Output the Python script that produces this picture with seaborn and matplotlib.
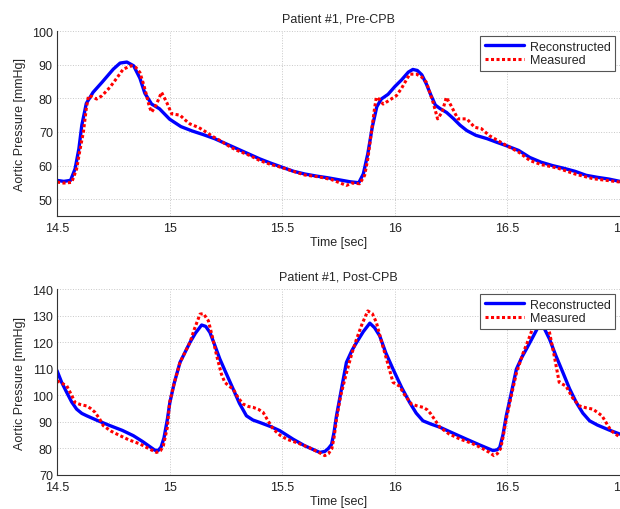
import matplotlib
matplotlib.use("Agg")
import matplotlib.pyplot as plt
import seaborn as sns
import numpy as np

# --- Pre-CPB: reconstructed (blue) ---
t_pre_rec = [14.50, 14.53, 14.56, 14.58, 14.597, 14.61, 14.63, 14.66, 14.70, 14.75, 14.78, 14.81,
             14.84, 14.868, 14.89, 14.92, 14.955, 15.00, 15.05, 15.10, 15.15, 15.20, 15.25, 15.30,
             15.35, 15.40, 15.45, 15.50, 15.55, 15.60, 15.65, 15.70, 15.75, 15.80, 15.84, 15.86,
             15.88, 15.90, 15.92, 15.94, 15.97, 16.00, 16.03, 16.06, 16.08, 16.10, 16.12, 16.14,
             16.16, 16.18, 16.20, 16.23, 16.26, 16.29, 16.32, 16.36, 16.41, 16.45, 16.50, 16.55,
             16.60, 16.65, 16.70, 16.75, 16.80, 16.85, 16.90, 16.95, 17.00]
p_pre_rec = [55.6, 55.3, 55.6, 59.0, 65.0, 72.0, 78.5, 81.8, 84.8, 88.7, 90.5, 90.8,
             89.7, 86.0, 81.5, 78.3, 76.9, 73.8, 71.6, 70.3, 69.2, 68.0, 66.5, 65.0,
             63.5, 62.0, 60.7, 59.5, 58.3, 57.5, 56.9, 56.4, 55.8, 55.2, 54.9, 57.5,
             63.5, 71.5, 77.5, 79.8, 81.2, 83.5, 85.5, 87.8, 88.6, 88.3, 87.0, 84.3,
             81.0, 78.0, 77.0, 75.8, 74.0, 72.0, 70.4, 69.0, 68.0, 67.0, 65.8, 64.5,
             62.4, 61.0, 60.0, 59.2, 58.3, 57.1, 56.5, 56.0, 55.3]

# --- Pre-CPB: measured (red) ---
t_pre_meas = [14.50, 14.53, 14.565, 14.587, 14.60, 14.617, 14.63, 14.64, 14.655, 14.676, 14.70,
              14.735, 14.765, 14.794, 14.83, 14.85, 14.868, 14.885, 14.898, 14.91, 14.92, 14.94,
              14.964, 14.987, 15.009, 15.046, 15.07, 15.09, 15.13, 15.164, 15.19, 15.223, 15.27,
              15.30, 15.356, 15.40, 15.45, 15.489, 15.55, 15.60, 15.667, 15.72, 15.785, 15.81,
              15.844, 15.866, 15.88, 15.896, 15.91, 15.918, 15.93, 15.948, 15.97, 16.007, 16.03,
              16.066, 16.096, 16.12, 16.14, 16.17, 16.19, 16.21, 16.229, 16.25, 16.28, 16.32,
              16.354, 16.384, 16.42, 16.495, 16.55, 16.60, 16.65, 16.70, 16.73, 16.80, 16.88,
              16.94, 17.00]
p_pre_meas = [55.1, 54.8, 55.0, 59.0, 64.0, 70.0, 77.0, 80.8, 80.5, 79.8, 80.8,
              83.3, 86.0, 88.7, 89.7, 89.2, 87.7, 84.0, 80.8, 77.5, 75.9, 78.0,
              81.8, 78.8, 75.4, 75.0, 73.5, 72.4, 71.3, 69.9, 68.7, 67.5, 65.5,
              64.5, 63.0, 61.5, 60.3, 59.6, 58.3, 57.2, 56.6, 55.8, 54.1, 54.8,
              54.6, 57.1, 62.0, 69.9, 77.0, 80.3, 79.8, 78.3, 79.2, 80.8, 83.0,
              87.2, 87.2, 86.3, 84.8, 78.8, 73.9, 75.9, 80.3, 77.8, 73.9, 73.9,
              71.4, 71.0, 68.9, 66.0, 64.0, 61.5, 60.3, 59.6, 59.1, 57.5, 56.1,
              55.6, 55.1]

# --- Post-CPB: reconstructed (blue) ---
t_post_rec = [14.50, 14.52, 14.543, 14.565, 14.587, 14.61, 14.632, 14.68, 14.735, 14.79, 14.839,
              14.88, 14.91, 14.935, 14.95, 14.962, 14.975, 14.99, 15.001, 15.02, 15.046, 15.07,
              15.09, 15.115, 15.142, 15.16, 15.179, 15.20, 15.223, 15.25, 15.282, 15.31, 15.341,
              15.37, 15.40, 15.45, 15.489, 15.548, 15.60, 15.667, 15.69, 15.705, 15.719, 15.73,
              15.741, 15.76, 15.785, 15.81, 15.83, 15.86, 15.889, 15.91, 15.933, 15.96, 15.992,
              16.03, 16.066, 16.095, 16.125, 16.16, 16.20, 16.26, 16.318, 16.38, 16.436, 16.455,
              16.466, 16.48, 16.495, 16.515, 16.54, 16.565, 16.584, 16.61, 16.643, 16.665, 16.687,
              16.715, 16.746, 16.776, 16.806, 16.835, 16.865, 16.90, 16.95, 17.00]
p_post_rec = [109.3, 105.0, 101.1, 97.5, 94.8, 93.2, 92.3, 90.5, 88.6, 86.8, 84.8,
              82.6, 80.8, 79.3, 79.3, 80.5, 84.0, 91.0, 97.3, 104.5, 112.4, 116.5,
              119.9, 123.5, 126.5, 126.0, 123.7, 119.0, 113.7, 108.5, 102.4, 97.0, 92.3,
              90.7, 89.8, 88.2, 86.7, 83.5, 81.0, 78.5, 78.9, 80.0, 81.5, 86.0,
              92.3, 101.0, 112.4, 117.0, 119.9, 124.0, 127.2, 125.5, 122.4, 116.0, 109.9,
              103.0, 97.3, 93.3, 90.4, 89.2, 88.0, 85.7, 83.5, 81.2, 79.2, 79.5,
              80.4, 85.0, 92.3, 100.0, 109.9, 114.5, 117.4, 121.5, 126.8, 125.0, 121.2,
              115.0, 108.7, 102.5, 97.3, 93.3, 90.4, 88.8, 87.0, 85.4]

# --- Post-CPB: measured (red) ---
t_post_meas = [14.50, 14.543, 14.565, 14.58, 14.605, 14.632, 14.65, 14.669, 14.69, 14.705, 14.74,
               14.78, 14.82, 14.868, 14.91, 14.942, 14.96, 14.972, 14.99, 15.00, 15.02, 15.046,
               15.07, 15.09, 15.11, 15.135, 15.15, 15.172, 15.19, 15.209, 15.23, 15.245, 15.265,
               15.282, 15.305, 15.327, 15.35, 15.37, 15.395, 15.415, 15.44, 15.46, 15.49, 15.52,
               15.57, 15.62, 15.667, 15.689, 15.705, 15.72, 15.73, 15.741, 15.76, 15.785, 15.81,
               15.83, 15.855, 15.88, 15.90, 15.918, 15.94, 15.963, 15.992, 16.02, 16.045, 16.074,
               16.10, 16.125, 16.145, 16.16, 16.18, 16.20, 16.24, 16.29, 16.34, 16.38, 16.42,
               16.44, 16.455, 16.47, 16.48, 16.495, 16.515, 16.54, 16.57, 16.60, 16.625, 16.645,
               16.665, 16.687, 16.71, 16.73, 16.76, 16.79, 16.82, 16.85, 16.88, 16.92, 16.94,
               16.96, 17.00]
p_post_meas = [105.5, 103.6, 100.0, 97.3, 96.5, 96.0, 95.0, 93.6, 91.0, 88.6, 86.5,
               84.8, 83.2, 81.7, 79.8, 78.5, 79.2, 81.0, 88.0, 97.3, 104.5, 112.4,
               116.5, 119.9, 125.0, 130.6, 130.8, 128.1, 122.0, 114.9, 108.0, 104.9, 103.4,
               102.4, 99.0, 96.7, 95.8, 95.5, 94.7, 93.6, 90.0, 87.3, 85.0, 83.5,
               82.0, 80.3, 78.3, 77.3, 78.0, 79.9, 84.0, 91.0, 100.0, 108.4, 116.0,
               121.2, 127.0, 131.8, 130.8, 127.5, 120.5, 113.7, 104.9, 103.5, 100.0, 96.7,
               96.0, 95.5, 94.5, 93.0, 90.5, 88.0, 85.5, 83.5, 82.0, 80.4, 78.5,
               77.3, 78.0, 80.0, 84.0, 91.0, 99.0, 108.4, 116.0, 122.4, 128.5, 131.0,
               129.0, 123.7, 114.0, 104.9, 103.5, 99.0, 96.0, 95.3, 94.8, 92.3, 89.5,
               86.7, 84.2]

titles = ["Patient #1, Pre-CPB", "Patient #1, Post-CPB"]
ylims = [(45, 100), (70, 140)]
yticks = [np.arange(50, 101, 10), np.arange(70, 141, 10)]
xticks = [14.5, 15, 15.5, 16, 16.5, 17]
xtick_labels = ["14.5", "15", "15.5", "16", "16.5", "17"]

sns.set_style("white")
plt.rcParams['font.family'] = ['Liberation Sans', 'DejaVu Sans']

fig = plt.figure(figsize=(6.2, 5.1), dpi=100)
ax1 = fig.add_axes([0.092, 0.5745, 0.908, 0.3625])
ax2 = fig.add_axes([0.092, 0.0667, 0.908, 0.3643])

panels = [(ax1, t_pre_rec, p_pre_rec, t_pre_meas, p_pre_meas),
          (ax2, t_post_rec, p_post_rec, t_post_meas, p_post_meas)]

fs = 9
for i, (ax, tr, pr, tm, pm) in enumerate(panels):
    sns.lineplot(x=tr, y=pr, ax=ax, color='#0000ff', lw=2.4, sort=False,
                 estimator=None, label='Reconstructed')
    sns.lineplot(x=tm, y=pm, ax=ax, color='#ff0000', lw=2.2, sort=False,
                 estimator=None, label='Measured', linestyle=(0, (1, 0.8)))
    ax.set_xlim(14.5, 17)
    ax.set_ylim(*ylims[i])
    ax.set_xticks(xticks)
    ax.set_xticklabels(xtick_labels)
    ax.set_yticks(yticks[i])
    ax.grid(True, linestyle=':', color='#c8c8c8', lw=0.7)
    ax.tick_params(direction='in', length=3, labelsize=fs, colors='#222222')
    ax.tick_params(axis='x', pad=4)
    ax.tick_params(axis='y', pad=3)
    for s in ['top', 'right']:
        ax.spines[s].set_visible(False)
    for s in ['left', 'bottom']:
        ax.spines[s].set_color('#333333')
        ax.spines[s].set_linewidth(0.8)
    ax.set_title(titles[i], fontsize=fs, pad=7)
    ax.set_xlabel('Time [sec]', fontsize=fs, labelpad=2)
    ax.set_ylabel('Aortic Pressure [mmHg]', fontsize=fs, labelpad=4)
    leg = ax.legend(loc='upper right', fontsize=fs, frameon=True, fancybox=False,
                    framealpha=1, edgecolor='#555555', handlelength=3.1,
                    borderaxespad=0.4, borderpad=0.35, labelspacing=0.15,
                    handletextpad=0.5)
    leg.get_frame().set_linewidth(0.8)

fig.savefig('out.png', dpi=100)
